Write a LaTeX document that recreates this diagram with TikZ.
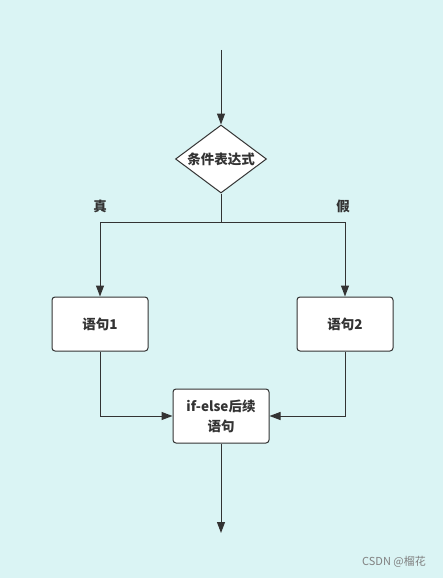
\documentclass[tikz,border=0pt]{standalone}
\usepackage{fontspec}
\setmainfont{Noto Sans CJK SC}
\usetikzlibrary{shapes.geometric,arrows.meta}
\definecolor{bgc}{HTML}{DAF4F4}
\definecolor{lnc}{HTML}{333333}
\begin{document}
\begin{tikzpicture}[x=1pt,y=-1pt,
  every node/.style={font=\fontsize{13.5}{20}\selectfont\bfseries, text=lnc},
  boxst/.style={draw=lnc, fill=white, rounded corners=3pt, line width=1pt, minimum width=96pt, minimum height=54pt, inner sep=0pt, align=center},
  decst/.style={draw=lnc, fill=white, diamond, aspect=1.34, line width=1pt, minimum width=91pt, minimum height=68pt, inner sep=0pt},
  conn/.style={draw=lnc, line width=1pt, -{Triangle[length=11pt,width=8pt]}},
  plain/.style={draw=lnc, line width=1pt}]
\fill[bgc] (0,0) rectangle (443,578);
\useasboundingbox (0,0) rectangle (443,578);
\coordinate (top) at (221,50);
\node[decst] (d) at (221,159) {条件表达式};
\coordinate (j) at (221,222);
\coordinate (jl) at (100,222);
\coordinate (jr) at (345,222);
\node[boxst] (b1) at (100,324) {语句1};
\node[boxst] (b2) at (345,324) {语句2};
\node[boxst] (b3) at (221,416) {if-else后续\\语句};
\coordinate (end) at (221,533);
\node (t) at (100,206) {真};
\node (f) at (343,206) {假};
\draw[conn] (top) -- (d.north);
\draw[plain] (d.south) -- (j);
\draw[plain] (jl) -- (jr);
\draw[conn] (jl) -- (b1.north);
\draw[conn] (jr) -- (b2.north);
\draw[conn] (b1.south) |- (b3.west);
\draw[conn] (b2.south) |- (b3.east);
\draw[conn] (b3.south) -- (end);
\node[font=\fontsize{11}{13}\selectfont, text=gray] (wm) at (394,562) {CSDN @榴花};
\end{tikzpicture}
\end{document}
